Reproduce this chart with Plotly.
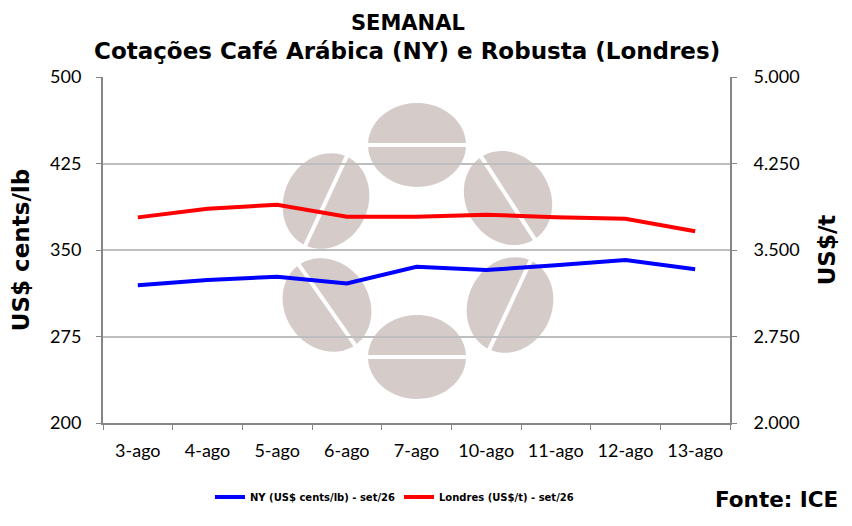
import numpy as np
import plotly.graph_objects as go

# dados semanais
datas = ["3-ago", "4-ago", "5-ago", "6-ago", "7-ago", "10-ago", "11-ago", "12-ago", "13-ago"]
ny_cents_lb = [319.4, 324.0, 326.8, 321.0, 335.5, 332.6, 336.7, 341.3, 333.3]
londres_usd_t = [3783, 3858, 3893, 3789, 3789, 3806, 3783, 3771, 3662]

y_left_ticks = [200, 275, 350, 425, 500]
y_right_ticks = [2000, 2750, 3500, 4250, 5000]

W, H = 852, 526
OFF = 8  # margem do body da página html
L, T = 103 - OFF, 77 - OFF
PW, PH = 627, 346
R, B = W - L - PW, H - T - PH

FONT_TICK = "Lato, Open Sans, sans-serif"
FONT_BOLD = "DejaVu Sans, Verdana, sans-serif"
BEAN = "#d5ccc9"


def px(x, y):
    # pixel da tela -> coordenadas paper
    return (x - OFF - L) / PW, (T + PH - (y - OFF)) / PH


def bean(cx, cy, ang, a=49, b=42):
    """marca d'água: grão de café (elipse + fenda branca)"""
    t = np.linspace(0, 2 * np.pi, 60)
    th = np.deg2rad(ang)
    xs = cx + a * np.cos(t) * np.cos(th) - b * np.sin(t) * np.sin(th)
    ys = cy + a * np.cos(t) * np.sin(th) + b * np.sin(t) * np.cos(th)
    pts = [px(x, y) for x, y in zip(xs, ys)]
    path = "M " + " L ".join(f"{u:.4f},{v:.4f}" for u, v in pts) + " Z"
    body = dict(type="path", xref="paper", yref="paper", path=path,
                fillcolor=BEAN, line=dict(width=0), layer="below")
    x0, y0 = px(cx - (a + 3) * np.cos(th), cy - (a + 3) * np.sin(th))
    x1, y1 = px(cx + (a + 3) * np.cos(th), cy + (a + 3) * np.sin(th))
    cut = dict(type="line", xref="paper", yref="paper", x0=x0, y0=y0, x1=x1, y1=y1,
               line=dict(color="white", width=4), layer="below")
    return [body, cut]


fig = go.Figure()
fig.add_trace(go.Scatter(x=datas, y=ny_cents_lb, mode="lines",
                         name="<b>NY (US$ cents/lb) - set/26</b>",
                         line=dict(color="#0000ff", width=4)))
fig.add_trace(go.Scatter(x=datas, y=londres_usd_t, mode="lines", yaxis="y2",
                         name="<b>Londres (US$/t) - set/26</b>",
                         line=dict(color="#ff0000", width=4)))

shapes = []
for cx, cy, ang in [(417, 145, 0), (326, 201, 115), (508, 198, 57),
                    (327, 305, 55), (510, 305, 115), (417, 357, 0)]:
    shapes += bean(cx, cy, ang)

axis_common = dict(showline=True, linecolor="#868686", linewidth=2,
                   ticks="outside", ticklen=5, tickcolor="#868686",
                   automargin=False,
                   tickfont=dict(family=FONT_TICK, size=18, color="black"))

fig.update_layout(
    width=W, height=H,
    margin=dict(l=L, r=R, t=T, b=B),
    paper_bgcolor="white", plot_bgcolor="white",
    separators=",.",
    showlegend=True,
    legend=dict(orientation="h", x=px(210, 0)[0], y=px(0, 497)[1],
                xanchor="left", yanchor="middle", entrywidth=144,
                font=dict(family=FONT_BOLD, size=10, color="black"),
                itemwidth=30),
    xaxis=dict(**axis_common, tickson="boundaries", showgrid=False,
               range=[-0.5, len(datas) - 0.5], ticklabelstandoff=10),
    yaxis=dict(**axis_common, range=[200, 500], tickvals=y_left_ticks,
               showgrid=True, gridcolor="#bebebe", gridwidth=1.5, zeroline=False,
               ticklabelstandoff=11,
               title=dict(text="<b>US$ cents/lb</b>", standoff=24,
                          font=dict(family=FONT_BOLD, size=23, color="black"))),
    yaxis2=dict(**axis_common, range=[2000, 5000], tickvals=y_right_ticks,
                tickformat=",.0f", overlaying="y", side="right", showgrid=False,
                zeroline=False, ticklabelstandoff=13,
                title=dict(text="<b>US$/t</b>", standoff=20,
                           font=dict(family=FONT_BOLD, size=23, color="black"))),
    shapes=shapes,
    annotations=[
        dict(text="<b>SEMANAL</b>", xref="paper", yref="paper",
             x=px(408, 0)[0], y=px(0, 23)[1], showarrow=False,
             xanchor="center", yanchor="middle",
             font=dict(family=FONT_BOLD, size=21, color="black")),
        dict(text="<b>Cotações Café Arábica (NY) e Robusta (Londres)</b>",
             xref="paper", yref="paper", x=px(407, 0)[0], y=px(0, 51)[1],
             showarrow=False, xanchor="center", yanchor="middle",
             font=dict(family=FONT_BOLD, size=23, color="black")),
        dict(text="<b>Fonte: ICE</b>", xref="paper", yref="paper",
             x=px(840, 0)[0], y=px(0, 500)[1], showarrow=False,
             xanchor="right", yanchor="middle",
             font=dict(family=FONT_BOLD, size=21.5, color="black")),
    ],
)

fig.write_html("out.html")
